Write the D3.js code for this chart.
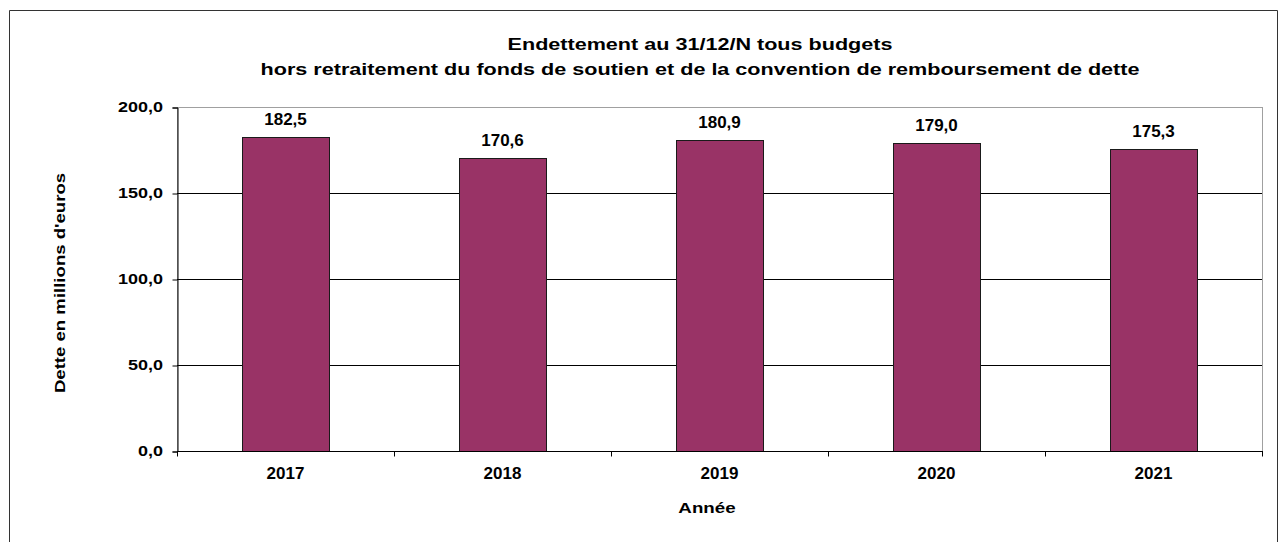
<!DOCTYPE html>
<html>
<head>
<meta charset="utf-8">
<script src="https://cdn.jsdelivr.net/npm/d3@7"></script>
<style>
  html, body { margin: 0; padding: 0; background: #fff; }
  svg text { font-family: "Liberation Sans", Arial, sans-serif; fill: #000; font-weight: bold; }
</style>
</head>
<body>
<svg id="chart" width="1279" height="542"></svg>
<script>
// Debt at 31/12 of each year, all budgets (millions of euros)
const years = ["2017", "2018", "2019", "2020", "2021"];
const debt = [182.5, 170.6, 180.9, 179.0, 175.3];
const yTicks = [0, 50, 100, 150, 200];
const titleLines = [
  "Endettement au 31/12/N tous budgets",
  "hors retraitement du fonds de soutien et de la convention de remboursement de dette"
];
const yLabel = "Dette en millions d'euros";
const xLabel = "Année";

const svg = d3.select("#chart");
const H = 542;
const plot = { left: 177, top: 107, right: 1262, bottom: 451 };

const fmt = v => d3.format(".1f")(v).replace(".", ",");

// text drawn with a slightly widened face
function wideText(g, x, y, sx, rot) {
  return g.append("text")
    .attr("transform", `translate(${x},${y})${rot ? ` rotate(${rot})` : ""} scale(${sx},1)`);
}

// outer frame
svg.append("path")
  .attr("d", `M9.5,${H} V10.5 H1277.5 V${H}`)
  .attr("fill", "none").attr("stroke", "#333").attr("stroke-width", 1);

const x = d3.scaleBand().domain(years)
  .range([plot.left, plot.right]).paddingInner(0.6).paddingOuter(0.3);
const y = d3.scaleLinear().domain([0, 200]).range([plot.bottom, plot.top]);

// plot area border (light grey)
svg.append("rect")
  .attr("x", plot.left + 0.5).attr("y", plot.top + 0.5)
  .attr("width", plot.right - plot.left).attr("height", plot.bottom - plot.top)
  .attr("fill", "none").attr("stroke", "#a0a0a0");

// horizontal gridlines
svg.append("g").selectAll("line").data(yTicks.filter(d => d > 0 && d < 200)).join("line")
  .attr("x1", plot.left).attr("x2", plot.right)
  .attr("y1", d => Math.round(y(d)) + 0.5).attr("y2", d => Math.round(y(d)) + 0.5)
  .attr("stroke", "#000").attr("stroke-width", 1);

// bars
svg.append("g").selectAll("rect").data(years).join("rect")
  .attr("x", d => Math.round(x(d)) + 0.5)
  .attr("y", (d, i) => Math.round(y(debt[i])) + 0.5)
  .attr("width", Math.round(x.bandwidth()))
  .attr("height", (d, i) => Math.round(y(0)) - Math.round(y(debt[i])))
  .attr("fill", "#993366").attr("stroke", "#1a1a1a").attr("stroke-width", 1);

// value labels
svg.append("g").selectAll("text").data(years).join("text")
  .attr("x", d => x(d) + x.bandwidth() / 2)
  .attr("y", (d, i) => y(debt[i]) - 12)
  .attr("text-anchor", "middle")
  .style("font-size", "17px")
  .text((d, i) => fmt(debt[i]));

// y axis line and ticks
const gy = svg.append("g").attr("transform", `translate(${plot.left + 0.5},0.5)`)
  .call(d3.axisLeft(y).tickValues(yTicks).tickFormat("").tickSize(5));
gy.select(".domain").attr("stroke", "#000");
gy.selectAll(".tick line").attr("stroke", "#000");

// y tick labels
const gyl = svg.append("g");
yTicks.forEach(t => {
  wideText(gyl, 163, y(t) + 5, 1.2)
    .attr("text-anchor", "end")
    .style("font-size", "15px")
    .text(fmt(t));
});

// x axis with ticks between categories
const xb = d3.scaleLinear().domain([0, years.length]).range([plot.left, plot.right]);
const gx = svg.append("g").attr("transform", `translate(0,${plot.bottom + 0.5})`);
gx.append("line").attr("x1", plot.left).attr("x2", plot.right + 1)
  .attr("stroke", "#000");
gx.selectAll("line.tk").data(d3.range(years.length + 1)).join("line")
  .attr("class", "tk")
  .attr("x1", d => Math.round(xb(d)) + 0.5).attr("x2", d => Math.round(xb(d)) + 0.5)
  .attr("y1", 0).attr("y2", 5).attr("stroke", "#000");
gx.selectAll("text").data(years).join("text")
  .attr("x", d => x(d) + x.bandwidth() / 2)
  .attr("y", 27)
  .attr("text-anchor", "middle")
  .style("font-size", "17px")
  .text(d => d);

// titles
const gt = svg.append("g");
titleLines.forEach((t, i) => {
  wideText(gt, 700, 50 + i * 25, 1.27)
    .attr("text-anchor", "middle")
    .style("font-size", "17px")
    .text(t);
});

// axis titles
wideText(svg, 65, 283, 1.24, -90)
  .attr("text-anchor", "middle")
  .style("font-size", "15px")
  .text(yLabel);

wideText(svg, 707, 513, 1.25, 0)
  .attr("text-anchor", "middle")
  .style("font-size", "15px")
  .text(xLabel);
</script>
</body>
</html>
